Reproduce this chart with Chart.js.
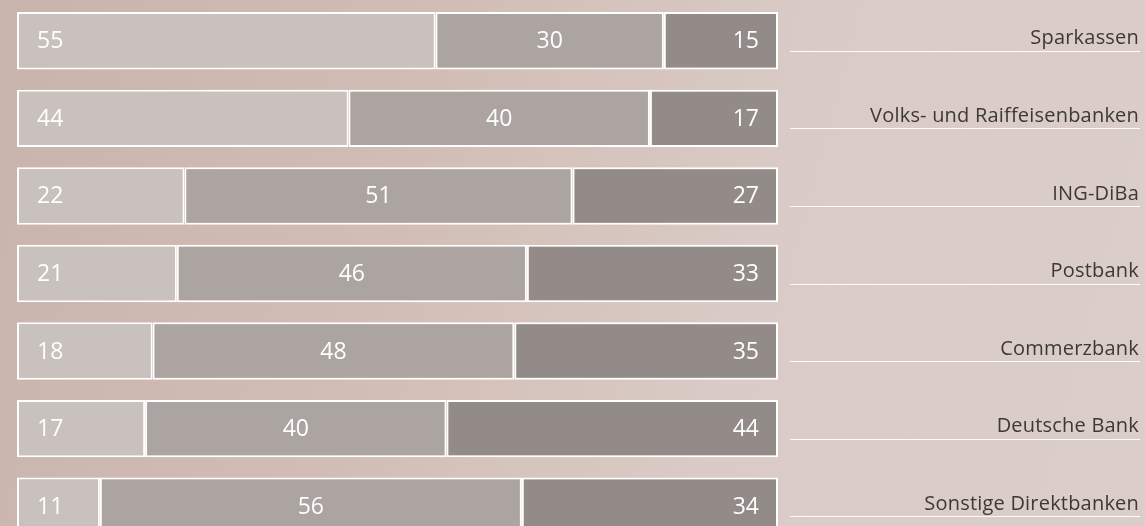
<!DOCTYPE html>
<html>
<head>
<meta charset="utf-8">
<script src="https://cdn.jsdelivr.net/npm/chart.js@4.4.0/dist/chart.umd.min.js"></script>
<style>
    html, body { margin: 0; padding: 0; overflow: hidden; }
    body {
        width: 1145px; height: 526px;
        background: linear-gradient(105deg, #c8b4ac 0%, #d1bdb5 35%, #dacbc6 65%, #dbcdc8 100%);
    }
    canvas { display: block; }
</style>
</head>
<body>
<canvas id="barChart" width="1145" height="545"></canvas>
<script>
var banken = ['Sparkassen', 'Volks- und Raiffeisenbanken', 'ING-DiBa', 'Postbank', 'Commerzbank', 'Deutsche Bank', 'Sonstige Direktbanken'];
var teil1 = [55, 44, 22, 21, 18, 17, 11];
var teil2 = [30, 40, 51, 46, 48, 40, 56];
var teil3 = [15, 17, 27, 33, 35, 44, 34];

var rohwerte = [teil1, teil2, teil3];
var farben = ['#c8c1be', '#aca4a1', '#928b88'];

// jede Zeile auf volle Breite bringen (Summen sind teils 101)
var summen = banken.map(function(b, i) {
    return teil1[i] + teil2[i] + teil3[i];
});
var datasets = rohwerte.map(function(werte, d) {
    return {
        label: 'Teil ' + (d + 1),
        data: werte.map(function(v, i) { return v / summen[i] * 100; }),
        backgroundColor: farben[d],
        borderColor: '#ffffff',
        borderWidth: 2,
        borderSkipped: false,
        categoryPercentage: 1,
        barPercentage: 0.74
    };
});

var werteLabels = {
    id: 'werteLabels',
    afterDatasetsDraw: function(chart) {
        var ctx = chart.ctx;
        ctx.save();
        ctx.fillStyle = '#ffffff';
        ctx.font = '500 23px "Open Sans", sans-serif';
        ctx.textBaseline = 'middle';
        chart.data.datasets.forEach(function(ds, d) {
            var meta = chart.getDatasetMeta(d);
            meta.data.forEach(function(bar, i) {
                var txt = String(rohwerte[d][i]);
                var links = bar.base, rechts = bar.x;
                if (d === 0) {
                    ctx.textAlign = 'left';
                    ctx.fillText(txt, links + 20, bar.y + 1);
                } else if (d === 1) {
                    ctx.textAlign = 'center';
                    ctx.fillText(txt, (links + rechts) / 2, bar.y + 1);
                } else {
                    ctx.textAlign = 'right';
                    ctx.fillText(txt, rechts - 19, bar.y + 1);
                }
            });
        });
        ctx.restore();
    }
};

// Bankennamen rechts, mit weisser Linie darunter
var namen = {
    id: 'namen',
    afterDraw: function(chart) {
        var ctx = chart.ctx;
        var yScale = chart.scales.y;
        ctx.save();
        ctx.strokeStyle = 'rgba(255,255,255,0.9)';
        ctx.lineWidth = 1.2;
        ctx.fillStyle = '#3d3938';
        ctx.font = '20px "Open Sans", sans-serif';
        ctx.letterSpacing = '0.2px';
        ctx.textAlign = 'right';
        ctx.textBaseline = 'middle';
        banken.forEach(function(b, i) {
            var yc = yScale.getPixelForValue(i);
            ctx.fillText(b, chart.width - 6, yc - 2);
            var y = Math.round(yc) + 10.5;
            ctx.beginPath();
            ctx.moveTo(chart.chartArea.right + 12, y);
            ctx.lineTo(chart.width - 5, y);
            ctx.stroke();
        });
        ctx.restore();
    }
};

var ctx = document.getElementById('barChart').getContext('2d');
var barChart = new Chart(ctx, {
    type: 'bar',
    data: {
        labels: banken,
        datasets: datasets
    },
    options: {
        indexAxis: 'y',
        responsive: false,
        animation: false,
        layout: { padding: { left: 17, right: 5, top: 2, bottom: 0 } },
        plugins: {
            legend: { display: false },
            tooltip: { enabled: false }
        },
        scales: {
            x: {
                stacked: true,
                min: 0,
                max: 100,
                display: false
            },
            y: {
                stacked: true,
                position: 'right',
                grid: { display: false },
                border: { display: false },
                ticks: { display: false },
                afterFit: function(scale) {
                    scale.width = 362;
                    scale.paddingTop = 0;
                    scale.paddingBottom = 0;
                }
            }
        }
    },
    plugins: [werteLabels, namen]
});
</script>
</body>
</html>
